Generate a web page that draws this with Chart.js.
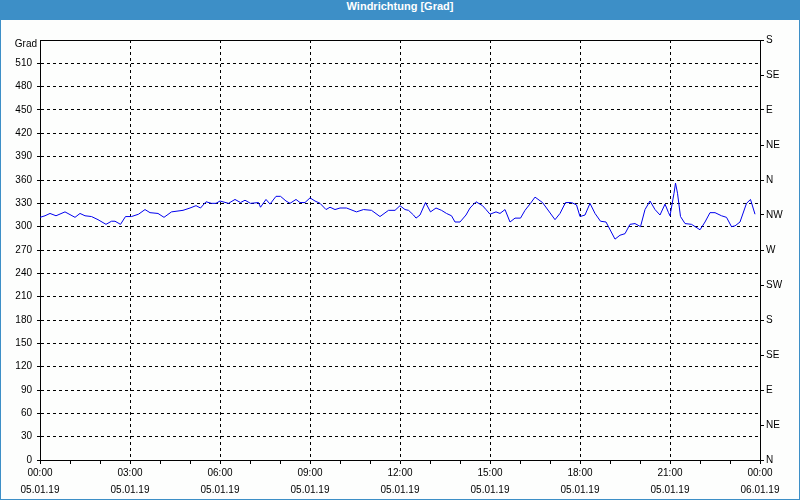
<!DOCTYPE html>
<html>
<head>
<meta charset="utf-8">
<script src="https://cdn.jsdelivr.net/npm/chart.js@4.4.1/dist/chart.umd.min.js"></script>
<style>
  html, body { margin: 0; padding: 0; background: #fff; }
  #frame { position: relative; width: 800px; height: 500px; box-sizing: border-box; border: 1px solid #3d8fc7; border-top: none; background: #fdfefd; }
  #title { height: 20px; line-height: 20px; background: #3d8fc7; color: #fff; font: bold 11px "Liberation Sans", Arial, sans-serif; text-align: center; margin: 0 -1px; }
  #wrap { position: absolute; left: 0; top: 20px; width: 798px; height: 479px; }
</style>
</head>
<body>
<div id="frame">
  <div id="title">Windrichtung [Grad]</div>
  <div id="wrap"><canvas id="c" width="798" height="479"></canvas></div>
</div>
<script>
// time in minutes since 05.01.19 00:00
const times = [0,10,20,32,50,70,80,90,103,116,132,143,150,161,171,183,197,210,220,236,248,263,286,300,312,321,332,343,352,360,
  377,390,401,410,421,437,441,452,460,472,481,492,500,512,520,530,540,550,560,572,580,590,600,613,633,647,663,680,697,710,720,730,
  737,747,752,760,771,781,792,803,813,823,830,840,852,860,872,885,892,900,912,920,930,940,950,961,970,981,990,1005,1013,1030,1040,
  1051,1063,1073,1080,1090,1100,1110,1121,1132,1150,1160,1170,1180,1190,1201,1210,1220,1230,1240,1250,1257,1260,1268,1271,1275,
  1281,1290,1303,1320,1330,1340,1350,1363,1373,1383,1390,1400,1413,1421,1430];
const values = [312,314,317,314,319,312,317,314,313,309,303,307,307,303,313,313,316,322,318,317,312,319,321,324,327,324,332,330,330,333,
  330,335,331,334,330,331,325,335,329,339,339,333,330,335,331,331,337,333,330,322,325,322,324,324,319,322,321,313,321,321,327,322,
  321,315,311,315,331,319,324,321,317,314,306,306,315,324,332,327,322,316,319,317,322,306,311,311,321,330,338,331,324,309,317,
  331,331,328,313,315,330,317,307,306,284,289,291,303,304,300,322,333,322,315,329,318,314,343,356,343,
  313,304,303,296,306,318,318,314,312,300,301,306,330,335,316];
const leftTicks = [0,30,60,90,120,150,180,210,240,270,300,330,360,390,420,450,480,510,540];
const rightTickLabels = ['N','NE','E','SE','S','SW','W','NW','N','NE','E','SE','S'];
const yTitle = 'Grad';
const startDate = '05.01.19', endDate = '06.01.19';

const FONT = { family: '"Liberation Sans", Arial, sans-serif', size: 10 };
const points = times.map((t, i) => ({ x: t, y: values[i] }));

const frame = {
  id: 'frame',
  afterDraw(chart) {
    const { ctx, chartArea: a } = chart;
    ctx.save();
    ctx.strokeStyle = '#000';
    ctx.lineWidth = 1;
    ctx.beginPath();
    ctx.moveTo(a.left, a.top + 0.5);
    ctx.lineTo(a.right, a.top + 0.5);
    ctx.stroke();
    ctx.fillStyle = '#000';
    ctx.font = '10px "Liberation Sans", Arial, sans-serif';
    ctx.textAlign = 'right';
    ctx.textBaseline = 'middle';
    ctx.fillText(yTitle, a.left - 3, a.top + 4);
    ctx.restore();
  }
};

new Chart(document.getElementById('c'), {
  type: 'line',
  data: { datasets: [{ data: points, borderColor: '#0000ee', borderWidth: 1, pointRadius: 0, tension: 0, fill: false }] },
  options: {
    responsive: false,
    animation: false,
    layout: { padding: { top: 20, left: 0, right: 0, bottom: 0 } },
    plugins: { legend: { display: false }, tooltip: { enabled: false } },
    scales: {
      x: {
        type: 'linear', min: 0, max: 1440,
        afterBuildTicks(s) { s.ticks = []; for (let m = 0; m <= 1440; m += 60) s.ticks.push({ value: m }); },
        afterFit(s) { s.height = 39; },
        ticks: {
          autoSkip: false, maxRotation: 0, color: '#000', font: { ...FONT, lineHeight: 1.7 }, padding: 1,
          callback(v) {
            if (v % 180 !== 0) return '';
            const h = String((v / 60) % 24).padStart(2, '0');
            return [h + ':00', v === 1440 ? endDate : startDate];
          }
        },
        grid: {
          color: c => (c.tick && c.tick.value % 180 === 0 && c.tick.value > 0 && c.tick.value < 1440) ? '#000' : 'rgba(0,0,0,0)',
          tickColor: '#000', tickLength: 4, drawTicks: true
        },
        border: { display: true, color: '#000', dash: [3, 3] }
      },
      y: {
        position: 'left', min: 0, max: 540,
        afterBuildTicks(s) { s.ticks = leftTicks.map(v => ({ value: v })); },
        afterFit(s) { s.width = 39; },
        ticks: { color: '#000', font: FONT, padding: 5, callback: v => v === 540 ? '' : String(v) },
        grid: {
          color: c => (c.tick && c.tick.value > 0 && c.tick.value < 540) ? '#000' : 'rgba(0,0,0,0)',
          tickColor: c => (c.tick && c.tick.value === 540) ? 'rgba(0,0,0,0)' : '#000',
          tickLength: 3
        },
        border: { display: true, color: '#000', dash: [3, 3] }
      },
      y2: {
        position: 'right', min: 0, max: 540,
        afterBuildTicks(s) { s.ticks = rightTickLabels.map((_, i) => ({ value: i * 45 })); },
        afterFit(s) { s.width = 39; },
        ticks: { color: '#000', font: FONT, padding: 2, callback: (v) => rightTickLabels[Math.round(v / 45)] },
        grid: { drawOnChartArea: false, tickColor: '#000', tickLength: 4 },
        border: { display: true, color: '#000' }
      }
    }
  },
  plugins: [frame]
});
</script>
</body>
</html>
